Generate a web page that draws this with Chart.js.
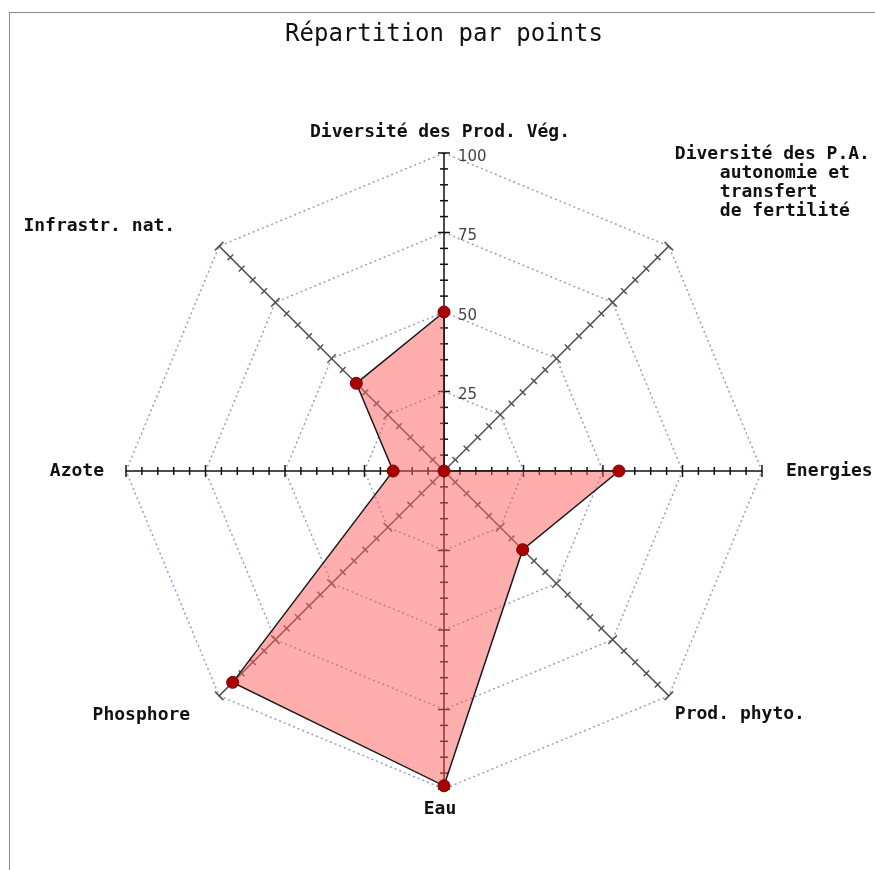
<!DOCTYPE html>
<html>
<head>
<meta charset="utf-8">
<script src="https://cdn.jsdelivr.net/npm/chart.js@4.4.0/dist/chart.umd.min.js"></script>
<style>
  html, body { margin: 0; padding: 0; background: #fff; }
  #wrap { position: relative; width: 875px; height: 870px; overflow: hidden; }
  #frame { position: absolute; left: 9px; top: 12px; right: -2px; bottom: -2px;
           border-top: 1px solid #8a8a8a; border-left: 1px solid #8a8a8a; }
  #radar { position: absolute; left: 0; top: 0; }
</style>
</head>
<body>
<div id="wrap">
  <div id="frame"></div>
  <canvas id="radar" width="875" height="870"></canvas>
</div>
<script>
// axes, clockwise from the top
const categories = [
  ["Diversité des Prod. Vég."],
  ["Diversité des P.A.", "autonomie et", "transfert", "de fertilité"],
  ["Energies"],
  ["Prod. phyto."],
  ["Eau"],
  ["Phosphore"],
  ["Azote"],
  ["Infrastr. nat."]
];
const scores = [50, 0, 55, 35, 99, 94, 16, 39];
const gridTicks = [25, 50, 75, 100];

// where each axis name sits relative to the end of its axis
const labelPlacement = [
  { align: "center", dx: -4, dy: -21 },
  { align: "left", dx: 6, dy: -92, indent: 45 },
  { align: "left", dx: 24, dy: 0 },
  { align: "left", dx: 6, dy: 18 },
  { align: "center", dx: -4, dy: 20 },
  { align: "right", dx: -29, dy: 19 },
  { align: "right", dx: -22, dy: 0 },
  { align: "right", dx: -44, dy: -20 }
];

function axisColor(i) {
  return i % 2 === 0 ? "#111" : "#555";
}

// small cross marks every 5 points along each axis
const axisTicks = {
  id: "axisTicks",
  beforeDatasetsDraw(chart) {
    const r = chart.scales.r;
    const ctx = chart.ctx;
    ctx.save();
    ctx.lineWidth = 1.5;
    categories.forEach((_, i) => {
      const a = r.getIndexAngle(i) - Math.PI / 2;
      const nx = -Math.sin(a), ny = Math.cos(a);
      ctx.strokeStyle = axisColor(i);
      for (let v = 5; v <= 100; v += 5) {
        const p = r.getPointPositionForValue(i, v);
        const h = v % 25 === 0 ? 6 : 4;
        ctx.beginPath();
        ctx.moveTo(p.x - nx * h, p.y - ny * h);
        ctx.lineTo(p.x + nx * h, p.y + ny * h);
        ctx.stroke();
      }
    });
    ctx.restore();
  }
};

// scale numbers on the vertical axis + axis names
const axisText = {
  id: "axisText",
  afterDraw(chart) {
    const r = chart.scales.r;
    const ctx = chart.ctx;
    ctx.save();
    ctx.textBaseline = "middle";
    ctx.textAlign = "left";
    ctx.font = "15px 'DejaVu Sans', sans-serif";
    ctx.fillStyle = "#444";
    gridTicks.forEach(v => {
      const p = r.getPointPositionForValue(0, v);
      ctx.fillText(String(v), p.x + 14, p.y + 4);
    });

    ctx.font = "bold 18px 'DejaVu Sans Mono', monospace";
    ctx.fillStyle = "#111";
    categories.forEach((lines, i) => {
      const tip = r.getPointPosition(i, r.drawingArea);
      const s = labelPlacement[i];
      ctx.textAlign = s.align;
      lines.forEach((line, k) => {
        const x = tip.x + s.dx + (k > 0 ? (s.indent || 0) : 0);
        ctx.fillText(line, x, tip.y + s.dy + k * 19);
      });
    });
    ctx.restore();
  }
};

new Chart(document.getElementById("radar"), {
  type: "radar",
  data: {
    labels: categories.map(l => l.join(" ")),
    datasets: [{
      data: scores,
      fill: true,
      backgroundColor: "rgba(255, 92, 92, 0.5)",
      borderColor: "#1a1a1a",
      borderWidth: 1.5,
      pointRadius: 6,
      pointBackgroundColor: "#a80000",
      pointBorderColor: "#7a0000",
      pointBorderWidth: 1
    }]
  },
  options: {
    responsive: false,
    animation: false,
    devicePixelRatio: 1,
    layout: { padding: { left: 126, right: 113, top: 0, bottom: 80 } },
    plugins: {
      legend: { display: false },
      tooltip: { enabled: false },
      title: {
        display: true,
        text: "Répartition par points",
        color: "#111",
        font: { family: "'DejaVu Sans Mono', monospace", size: 24, weight: "normal", lineHeight: 1.2 },
        padding: { top: 20, bottom: 105 }
      }
    },
    scales: {
      r: {
        min: 0,
        max: 100,
        ticks: { display: false, stepSize: 25 },
        pointLabels: { display: false },
        grid: { color: "#9a9ad2", lineWidth: 1.5, borderDash: [2, 3] },
        border: { dash: [2, 3] },
        angleLines: { color: ctx => axisColor(ctx.index), lineWidth: 1.5 }
      }
    }
  },
  plugins: [axisTicks, axisText]
});
</script>
</body>
</html>
